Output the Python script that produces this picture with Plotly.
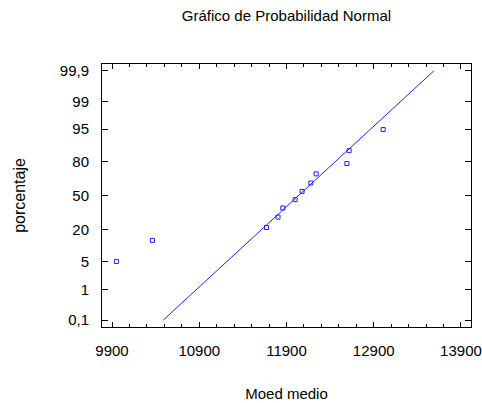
from statistics import NormalDist
import plotly.graph_objects as go

# Observed values of "Moed medio" (sorted) and their cumulative percentages
moed_medio = [9950, 10363, 11671, 11803, 11858, 11999, 12079, 12179, 12240, 12592, 12618, 13008]
porcentaje = [5.1, 13.3, 21.4, 29.6, 37.8, 45.9, 54.1, 62.2, 70.4, 78.6, 86.7, 94.9]

# Reference normal line: centre, spread and the percentage span it covers
fit_center = 12038
fit_sigma = 502
fit_span = [0.1, 99.9]

# Axis ticks
pct_ticks = [0.1, 1, 5, 20, 50, 80, 95, 99, 99.9]
pct_labels = ["0,1", "1", "5", "20", "50", "80", "95", "99", "99,9"]
x_ticks = [9900, 10900, 11900, 12900, 13900]

nd = NormalDist()


def z_of(p):
    """Normal score for a percentage."""
    return nd.inv_cdf(p / 100.0)


pt_z = [z_of(p) for p in porcentaje]
line_z = [z_of(p) for p in fit_span]
line_x = [fit_center + fit_sigma * z for z in line_z]

sans = "Liberation Sans, Arial, sans-serif"
blue = "#2020ff"

fig = go.Figure()
fig.add_trace(go.Scatter(
    x=line_x, y=line_z, mode="lines",
    line=dict(color=blue, width=1),
    hoverinfo="skip", showlegend=False,
))
fig.add_trace(go.Scatter(
    x=moed_medio, y=pt_z, mode="markers",
    marker=dict(symbol="square-open", size=4, color=blue, line=dict(width=1, color=blue)),
    customdata=porcentaje,
    hovertemplate="%{x}<br>%{customdata}%<extra></extra>",
    showlegend=False,
))

fig.update_layout(
    width=482, height=403,
    margin=dict(l=102, r=11, t=64, b=76),
    paper_bgcolor="white", plot_bgcolor="white",
    font=dict(family=sans, size=14, color="black"),
    title=dict(
        text="Gráfico de Probabilidad Normal",
        font=dict(family=sans, size=15, color="black"),
        x=0.5, xref="paper", xanchor="center",
        y=0.96, yref="container", yanchor="middle",
    ),
)

fig.update_xaxes(
    range=[9785, 14015],
    automargin=False,
    tickmode="array", tickvals=x_ticks, ticktext=[str(v) for v in x_ticks],
    ticks="inside", ticklen=5, tickwidth=1, tickcolor="black",
    minor=dict(dtick=200, tick0=9900, ticks="inside", ticklen=3, tickwidth=1, tickcolor="black", showgrid=False),
    showline=True, linecolor="black", linewidth=1, mirror="allticks",
    showgrid=False, zeroline=False,
    tickfont=dict(family=sans, size=15),
    ticklabelstandoff=10,
    ticklabeloverflow="allow",
    title=dict(text="Moed medio", font=dict(family=sans, size=15), standoff=30),
)

fig.update_yaxes(
    range=[-3.26, 3.26],
    automargin=False,
    tickmode="array", tickvals=[z_of(p) for p in pct_ticks], ticktext=pct_labels,
    ticks="inside", ticklen=6, tickwidth=1, tickcolor="black",
    showline=True, linecolor="black", linewidth=1, mirror="allticks",
    showgrid=False, zeroline=False,
    tickfont=dict(family=sans, size=15),
    ticklabelstandoff=9,
    title=dict(text="porcentaje", font=dict(family=sans, size=16), standoff=30),
)

fig.write_html("out.html")
